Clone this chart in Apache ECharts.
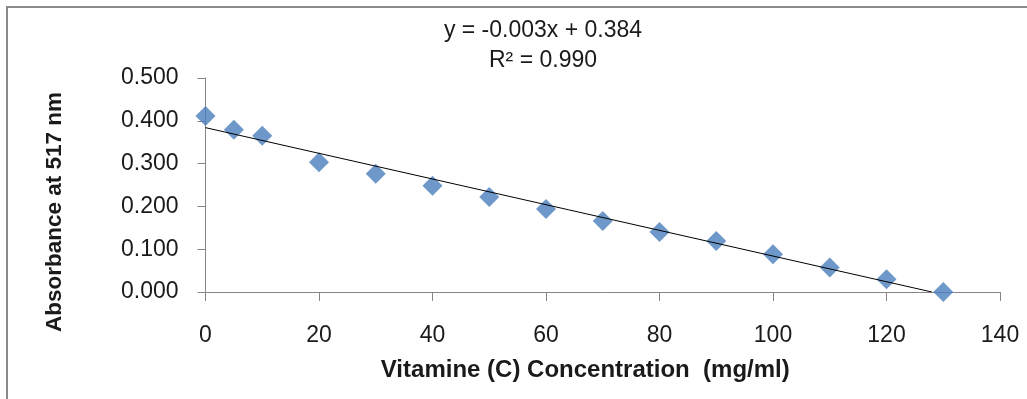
<!DOCTYPE html>
<html>
<head>
<meta charset="utf-8">
<script src="https://cdn.jsdelivr.net/npm/echarts@6/dist/echarts.min.js"></script>
<style>
  html, body { margin: 0; padding: 0; background: #fff; }
  #chart { width: 1027px; height: 399px; }
</style>
</head>
<body>
<div id="chart"></div>
<script>
// concentration (mg/ml) and absorbance
const concentration = [0, 5, 10, 20, 30, 40, 50, 60, 70, 80, 90, 100, 110, 120, 130];
const absorbance = [0.411, 0.379, 0.365, 0.303, 0.276, 0.248, 0.222, 0.194, 0.166, 0.140, 0.119, 0.088, 0.057, 0.030, 0.000];

// linear trendline endpoints (Excel clips it at y = 0)
const trendX = [0, 128];
const trendY = [0.384, 0];

const equationLines = ['y = -0.003x + 0.384', 'R\u00b2 = 0.990'];

const font = 'Liberation Sans';
const axisGray = '#868686';

const chart = echarts.init(document.getElementById('chart'));

chart.setOption({
  animation: false,
  backgroundColor: '#fff',
  grid: {
    left: 205.5,
    right: 27,
    top: 78,
    bottom: 107,
  },
  graphic: [
    // chart frame, only top and left edges are visible in the crop
    {
      type: 'rect',
      shape: { x: 7, y: 7, width: 1100, height: 500 },
      style: { fill: 'none', stroke: '#8a8a8a', lineWidth: 2 },
      silent: true,
    },
    {
      type: 'text',
      x: 543,
      y: 16,
      style: {
        text: equationLines.join('\n'),
        textAlign: 'center',
        font: '23px "Liberation Sans"',
        lineHeight: 30,
        fill: '#1a1a1a',
      },
    },
  ],
  xAxis: {
    type: 'value',
    min: 0,
    max: 140,
    interval: 20,
    name: 'Vitamine (C) Concentration  (mg/ml)',
    nameLocation: 'middle',
    nameGap: 66,
    nameTextStyle: {
      fontFamily: font,
      fontWeight: 'bold',
      fontSize: 24,
      color: '#1a1a1a',
      padding: [0, 35, 0, 0],
    },
    axisLine: { lineStyle: { color: axisGray, width: 1 } },
    axisTick: { show: true, inside: false, length: 9, lineStyle: { color: axisGray } },
    axisLabel: { margin: 32, fontFamily: font, fontSize: 23, color: '#1a1a1a' },
    splitLine: { show: false },
  },
  yAxis: {
    type: 'value',
    min: 0,
    max: 0.5,
    interval: 0.1,
    name: 'Absorbance at 517 nm',
    nameLocation: 'middle',
    nameGap: 139,
    nameTextStyle: {
      fontFamily: font,
      fontWeight: 'bold',
      fontSize: 22.5,
      color: '#1a1a1a',
      padding: [0, 54, 0, 0],
    },
    axisLine: { show: true, lineStyle: { color: axisGray, width: 1 } },
    axisTick: { show: true, inside: false, length: 8, lineStyle: { color: axisGray } },
    axisLabel: {
      margin: 27,
      fontFamily: font,
      fontSize: 23,
      color: '#1a1a1a',
      formatter: (v) => v.toFixed(3),
    },
    splitLine: { show: false },
  },
  series: [
    {
      type: 'scatter',
      symbol: 'diamond',
      symbolSize: [20, 20],
      itemStyle: { color: '#4a7ebb' },
      data: concentration.map((x, i) => [x, absorbance[i]]),
      z: 2,
    },
    {
      type: 'line',
      symbol: 'none',
      lineStyle: { color: '#000', width: 1 },
      data: trendX.map((x, i) => [x, trendY[i]]),
      z: 3,
    },
  ],
});
</script>
</body>
</html>
